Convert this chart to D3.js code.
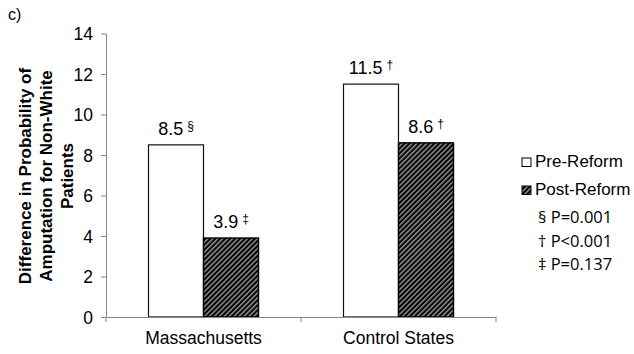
<!DOCTYPE html>
<html><head><meta charset="utf-8">
<script src="https://cdn.jsdelivr.net/npm/d3@7"></script>
<style>body{margin:0;background:#fff}svg{display:block}</style>
</head><body>
<svg id="c" width="634" height="354"></svg>
<script>
const categories = ["Massachusetts", "Control States"];
const seriesNames = ["Pre-Reform", "Post-Reform"];
const preValues = [8.5, 11.5];
const postValues = [3.9, 8.6];
const preMarks = ["§", "†"];
const postMarks = ["‡", "†"];
const yTicks = [0, 2, 4, 6, 8, 10, 12, 14];
const pNotes = ["§ P=0.001", "† P<0.001", "‡ P=0.137"];

const svg = d3.select("#c");
const font = "'Liberation Sans', Arial, sans-serif";
const defs = svg.append("defs");
const pat = defs.append("pattern").attr("id","hatch").attr("patternUnits","userSpaceOnUse")
  .attr("width",3.5).attr("height",3.5).attr("patternTransform","rotate(45)");
pat.append("rect").attr("width",3.5).attr("height",3.5).attr("fill","#000");
pat.append("line").attr("x1",0.8).attr("y1",0).attr("x2",0.8).attr("y2",3.5).attr("stroke","#fff").attr("stroke-width",0.85);

const x0 = 106, x1 = 496, yTop = 33.5, yBot = 317;
const x = d3.scaleBand().domain(categories).range([x0, x1]).paddingInner(0).paddingOuter(0);
const y = d3.scaleLinear().domain([0, 14]).range([yBot, yTop]);
const barW = 55;

// y axis
const ya = svg.append("g").attr("transform", `translate(${x0},0)`)
  .call(d3.axisLeft(y).tickValues(yTicks).tickSize(5).tickSizeOuter(0));
ya.select(".domain").attr("stroke","#868686");
ya.selectAll(".tick line").attr("stroke","#868686");
ya.selectAll(".tick text").attr("font-family",font).attr("font-size",17.5).attr("fill","#000").attr("x",-13).attr("dy","0.35em");

// bars
const data = categories.map((c,i)=>({c, pre:preValues[i], post:postValues[i], pm:preMarks[i], qm:postMarks[i]}));
const g = svg.append("g");
data.forEach(d=>{
  const cx = x(d.c) + x.bandwidth()/2;
  g.append("rect").attr("x", cx-barW).attr("y", y(d.pre)).attr("width", barW).attr("height", y(0)-y(d.pre))
    .attr("fill","#fff").attr("stroke","#111").attr("stroke-width",1.2);
  g.append("rect").attr("x", cx).attr("y", y(d.post)).attr("width", barW).attr("height", y(0)-y(d.post))
    .attr("fill","url(#hatch)").attr("stroke","#000").attr("stroke-width",1.4);
  [[cx-barW/2, d.pre, d.pm],[cx+barW/2, d.post, d.qm]].forEach(([lx,v,m])=>{
    const t = g.append("text").attr("x", lx).attr("y", y(v)-10).attr("text-anchor","middle")
      .attr("font-family",font).attr("font-size",18).attr("fill","#000");
    t.append("tspan").text(v.toFixed(1));
    t.append("tspan").attr("font-size",12).attr("dy",-5).attr("dx",4).text(m);
  });
});

// x axis
const xa = svg.append("g").attr("transform", `translate(0,${yBot})`)
  .call(d3.axisBottom(x).tickSize(0).tickSizeOuter(0));
xa.select(".domain").attr("stroke","#868686");
xa.selectAll(".tick text").attr("font-family",font).attr("font-size",17.5).attr("fill","#000").attr("y",0).attr("dy","27");
[x0, x0 + x.bandwidth(), x1].forEach(tx=>{
  svg.append("line").attr("x1",tx).attr("x2",tx).attr("y1",yBot).attr("y2",yBot+5).attr("stroke","#868686");
});

// y title
svg.append("text").attr("transform","translate(53,176) rotate(-90)").attr("text-anchor","middle")
  .attr("font-family",font).attr("font-size",17).attr("font-weight","bold")
  .selectAll("tspan").data(["Difference in Probability of","Amputation for Non-White","Patients"]).join("tspan")
  .attr("x",0).attr("dy",(d,i)=>i===0?-22:21).text(d=>d);

// panel label
svg.append("text").attr("x",8).attr("y",20).attr("font-family",font).attr("font-size",16).text("c)");

// legend
const leg = svg.append("g");
seriesNames.forEach((s,i)=>{
  const ly = 167 + i*28;
  leg.append("rect").attr("x",522).attr("y",ly-9).attr("width",9).attr("height",8.5)
    .attr("fill", i===0?"#fff":"url(#hatch)").attr("stroke","#000").attr("stroke-width",1);
  leg.append("text").attr("x",535).attr("y",ly).attr("font-family",font).attr("font-size",17).text(s);
});
pNotes.forEach((p,i)=>{
  leg.append("text").attr("x",538).attr("y",223+i*23.5).attr("font-family","'Open Sans', 'Noto Sans', sans-serif")
    .attr("font-size",16.5).attr("fill","#000").text(p);
});
</script>
</body></html>
